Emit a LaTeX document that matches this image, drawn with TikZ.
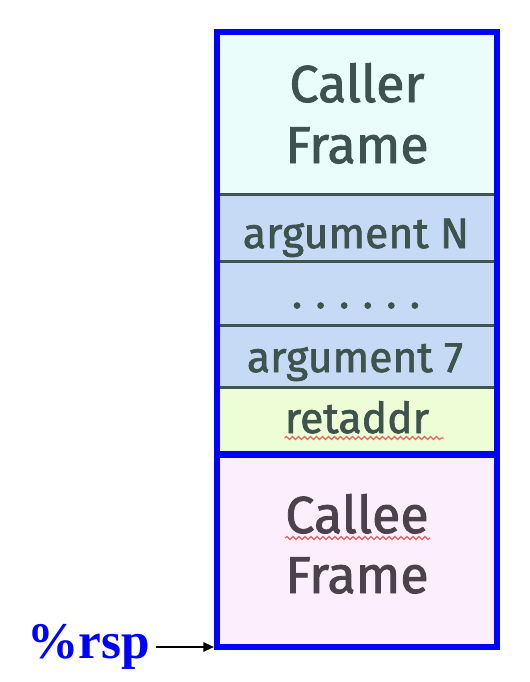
\documentclass[tikz,border=0pt]{standalone}
\usepackage{fontspec}
\setmainfont{Fira Sans}[RawFeature={embolden=1.6}]
\newfontfamily\rspfont{Liberation Serif}
\usetikzlibrary{arrows.meta,decorations.pathmorphing}
\definecolor{boxblue}{HTML}{0000FF}
\definecolor{divcol}{HTML}{405550}
\definecolor{txtcol}{HTML}{3E524E}
\definecolor{calleetxt}{HTML}{4D4150}
\definecolor{callerfill}{HTML}{EBFDFB}
\definecolor{argfill}{HTML}{C6DAF6}
\definecolor{retfill}{HTML}{EDFDD6}
\definecolor{calleefill}{HTML}{FCEEFD}
\definecolor{squig}{HTML}{F06060}
\begin{document}
\begin{tikzpicture}[x=0.75pt,y=-0.75pt,
  divline/.style={draw=divcol,line width=2.25pt},
  bluebox/.style={draw=boxblue,line width=4.5pt},
  bigtxt/.style={font=\fontsize{39}{46}\selectfont,text=txtcol,inner sep=0pt,anchor=base},
  argtxt/.style={font=\fontsize{32}{38}\selectfont,text=txtcol,inner sep=0pt,anchor=base},
  spell/.style={draw=squig,line width=0.9pt,decorate,decoration={snake,segment length=4.5pt,amplitude=1.1pt}}]
\useasboundingbox (0,0) rectangle (530,682);
% fills
\fill[callerfill] (217,31.5) rectangle (497,194);
\fill[argfill] (217,194) rectangle (497,387);
\fill[retfill] (217,387) rectangle (497,454);
\fill[calleefill] (217,454) rectangle (497,647);
% dividers
\draw[divline] (217,194) -- (497,194);
\draw[divline] (217,261) -- (497,261);
\draw[divline] (217,325) -- (497,325);
\draw[divline] (217,387) -- (497,387);
% blue outline
\draw[bluebox] (217,31.5) rectangle (497,647);
\draw[draw=boxblue,line width=5.25pt] (217,454) -- (497,454);
% texts
\node[bigtxt] (caller1) at (357,102) {Caller};
\node[bigtxt] (caller2) at (357,163) {Frame};
\node[argtxt] (argN) at (356,248) {argument N};
\node[argtxt] (dots) at (356,308) {.\hspace{10pt}.\hspace{10pt}.\hspace{10pt}.\hspace{10pt}.\hspace{10pt}.};
\node[argtxt] (arg7) at (355,372) {argument 7};
\node[argtxt] (ret) at (357,433) {retaddr};
\node[bigtxt,text=calleetxt] (callee1) at (357,533) {Callee};
\node[bigtxt,text=calleetxt] (callee2) at (357,593) {Frame};
% spell-check squiggles
\draw[spell] (ret.base west) ++(0,5) -- ++(159,0);
\draw[spell] (callee1.base west) ++(0,5) -- ++(145,0);
% %rsp pointer
\node[font=\rspfont\bfseries\fontsize{38.5}{44}\selectfont,text=boxblue,inner sep=0pt,anchor=base west] (rsp) at (27,658) {\%rsp};
\coordinate (bl) at (214,647);
\draw[line width=1.5pt,-{Triangle[length=8pt,width=7pt]}] ([xshift=4.5pt]rsp.east |- bl) -- (bl);
\end{tikzpicture}
\end{document}
